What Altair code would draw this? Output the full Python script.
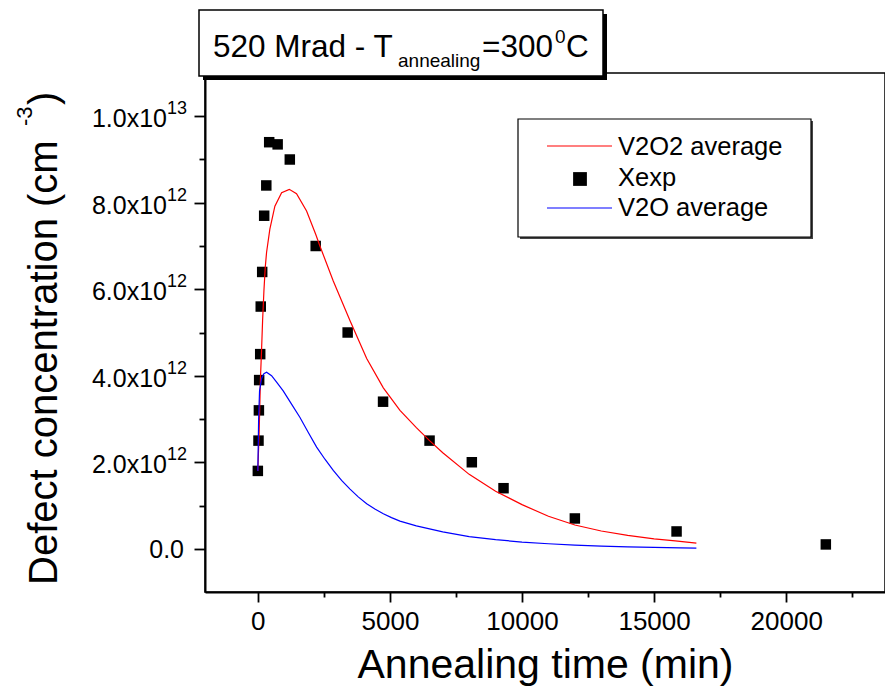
import altair as alt
import pandas as pd

# ---------------- data (concentration in units of 1e12 cm^-3) ----------------
exp_t = [0, 25, 40, 50, 90, 110, 165, 240, 320, 430, 750, 1210, 2190, 3400, 4740,
         6500, 8100, 9300, 12000, 15850, 21500]
exp_c = [1.8, 2.5, 3.2, 3.9, 4.5, 5.6, 6.4, 7.7, 8.4, 9.4, 9.35, 9.0, 7.0, 5.0, 3.4,
         2.5, 2.0, 1.4, 0.7, 0.4, 0.1]

red_t = [0, 50, 100, 140, 180, 230, 280, 330, 455, 645, 900, 1190, 1465, 1845, 2190,
         2350, 2855, 3490, 4120, 4750, 5380, 6000, 6500, 7000, 8000, 9000, 10000, 11000,
         12000, 13000, 14000, 15000, 15800, 16600]
red_c = [1.8, 2.7, 3.96, 4.58, 5.27, 5.96, 6.5, 6.85, 7.39, 7.92, 8.23, 8.31, 8.21,
         7.81, 7.27, 7.0, 6.19, 5.27, 4.4, 3.72, 3.2, 2.8, 2.5, 2.22, 1.72, 1.33, 1.02,
         0.75, 0.55, 0.41, 0.31, 0.23, 0.18, 0.13]

blue_t = [0, 30, 65, 140, 230, 330, 520, 710, 960, 1270, 1590, 1900, 2225, 2540, 2855,
          3170, 3490, 3800, 4120, 4430, 4750, 5060, 5380, 6000, 7000, 8000, 9000, 10000,
          11000, 12000, 13000, 14000, 15000, 16000, 16600]
blue_c = [1.8, 3.0, 3.65, 3.93, 4.05, 4.08, 4.0, 3.85, 3.65, 3.35, 3.04, 2.7, 2.35, 2.07,
          1.81, 1.58, 1.38, 1.2, 1.04, 0.92, 0.81, 0.72, 0.64, 0.53, 0.39, 0.28, 0.21,
          0.155, 0.115, 0.085, 0.062, 0.045, 0.032, 0.022, 0.016]

ytick_vals = [2, 4, 6, 8, 10]
ytick_main = ["2.0x10", "4.0x10", "6.0x10", "8.0x10", "1.0x10"]
ytick_sup = ["12", "12", "12", "12", "13"]
xtick_vals = [0, 2500, 5000, 7500, 10000, 12500, 15000, 17500, 20000, 22500]

legend_labels = ["V2O2 average", "Xexp", "V2O average"]

FONT = "Liberation Sans"
W, H = 680, 519

xs = alt.Scale(domain=[-2000, 23740], nice=False, zero=False)
ys = alt.Scale(domain=[-1, 11], nice=False, zero=False)

xaxis = alt.Axis(
    values=xtick_vals,
    labelExpr="datum.value % 5000 === 0 ? format(datum.value, 'd') : ''",
    labelFontSize=26, labelColor="black", labelPadding=6, labelFlush=False,
    labelOverlap=False,
    tickSize={"condition": {"test": "datum.value % 5000 === 0", "value": 10}, "value": 5},
    tickColor="black", tickWidth=1.8, domainColor="black", domainWidth=2,
    grid=False, title="Annealing time (min)", titleFontSize=41,
    titleFontWeight="normal", titleColor="black", titleBaseline="alphabetic",
    titleY=85,
)
yaxis = alt.Axis(
    values=list(range(0, 11)), labels=False, title=None,
    tickSize={"condition": {"test": "datum.value % 2 === 0", "value": 11}, "value": 6},
    tickColor="black", tickWidth=1.8, domainColor="black", domainWidth=2, grid=False,
)

exp_df = pd.DataFrame({"t": exp_t, "c": exp_c})
red_df = pd.DataFrame({"t": red_t, "c": red_c})
blue_df = pd.DataFrame({"t": blue_t, "c": blue_c})
one = pd.DataFrame({"k": [0]})

points = alt.Chart(exp_df).mark_square(size=110, color="black", opacity=1).encode(
    x=alt.X("t:Q", scale=xs, axis=xaxis),
    y=alt.Y("c:Q", scale=ys, axis=yaxis),
)
red = alt.Chart(red_df).mark_line(color="#ff0000", strokeWidth=1.2).encode(
    x=alt.X("t:Q", scale=xs), y=alt.Y("c:Q", scale=ys))
blue = alt.Chart(blue_df).mark_line(color="#0000ff", strokeWidth=1.2).encode(
    x=alt.X("t:Q", scale=xs), y=alt.Y("c:Q", scale=ys))

# y tick labels with superscripts
yl_df = pd.DataFrame({"v": ytick_vals, "m": ytick_main, "s": ytick_sup})
ylab_main = alt.Chart(yl_df).mark_text(align="right", baseline="alphabetic", dy=11,
                                       fontSize=25, font=FONT, color="black").encode(
    y=alt.Y("v:Q", scale=ys), x=alt.value(-38), text="m:N")
ylab_sup = alt.Chart(yl_df).mark_text(align="left", baseline="alphabetic", dy=-2,
                                      fontSize=18, font=FONT, color="black").encode(
    y=alt.Y("v:Q", scale=ys), x=alt.value(-38), text="s:N")
ylab_zero = alt.Chart(pd.DataFrame({"v": [0], "m": ["0.0"]})).mark_text(
    align="right", baseline="alphabetic", dy=9, fontSize=25, font=FONT, color="black").encode(
    y=alt.Y("v:Q", scale=ys), x=alt.value(-21), text="m:N")


def txt(s, x, y, size, angle=0, align="left"):
    kw = dict(text=s, align=align, baseline="alphabetic", fontSize=size, font=FONT,
              color="black")
    if angle:
        kw["angle"] = angle
    return alt.Chart(one).mark_text(**kw).encode(x=alt.value(x), y=alt.value(y))


# y axis title (rotated, with superscript)
ytitle = [
    txt("Defect concentration (cm", -148, 512, 40, 270),
    txt("-3", -173, 53, 22, 270),
    txt(")", -148, 32, 40, 270),
]


def rect(x1, x2, y1, y2, fill, stroke=None, sw=0):
    kw = dict(color=fill, opacity=1)
    if stroke:
        kw.update(stroke=stroke, strokeWidth=sw)
    return alt.Chart(one).mark_rect(**kw).encode(
        x=alt.value(x1), x2=alt.value(x2), y=alt.value(y1), y2=alt.value(y2))


# title box
title_layers = [
    rect(-2, 402, -59, 7, "black"),
    rect(-6, 398, -63, 3, "white", "black", 1.5),
    txt("520 Mrad - T", 8, -16, 31.5),
    txt("annealing", 193, -6, 19),
    txt("=300", 277, -16, 31.5),
    txt("0", 350, -30, 19),
    txt("C", 361, -16, 31.5),
]


def hline(x1, x2, y, color):
    return alt.Chart(one).mark_rule(color=color, strokeWidth=1.2).encode(
        x=alt.value(x1), x2=alt.value(x2), y=alt.value(y))


# legend
legend_layers = [
    rect(315, 608, 48, 166, "#444444"),
    rect(313, 606, 46, 164, "white", "black", 1.2),
    hline(342, 407, 73, "#ff0000"),
    alt.Chart(one).mark_square(size=190, color="black", opacity=1).encode(
        x=alt.value(375), y=alt.value(106)),
    hline(342, 407, 135, "#0000ff"),
    txt(legend_labels[0], 413, 82, 25.5),
    txt(legend_labels[1], 413, 113, 25.5),
    txt(legend_labels[2], 413, 143, 25.5),
]

chart = alt.layer(
    points, red, blue, ylab_main, ylab_sup, ylab_zero, *ytitle, *title_layers,
    *legend_layers
).properties(
    width=W, height=H,
    autosize=alt.AutoSizeParams(type="none"),
    padding={"left": 197, "top": 65, "right": 0, "bottom": 96},
).configure(font=FONT).configure_view(stroke="black", strokeWidth=1.5)

chart.save("out.html", embed_options={"renderer": "svg", "actions": False})
